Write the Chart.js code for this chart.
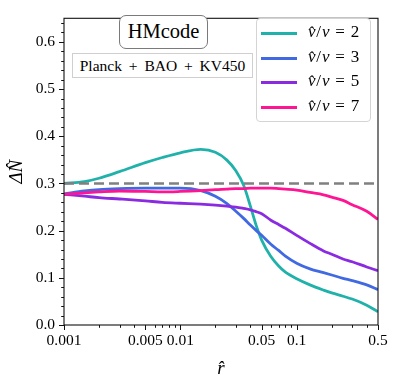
<!DOCTYPE html>
<html><head><meta charset="utf-8">
<script src="https://cdn.jsdelivr.net/npm/chart.js@4"></script>
<style>
html,body{margin:0;padding:0;background:#fff;}
#wrap{position:relative;width:399px;height:389px;overflow:hidden;}
canvas{position:absolute;left:0;top:0;}
.ov{position:absolute;font-family:'Liberation Serif','DejaVu Serif',serif;color:#000;background:#fff;box-sizing:border-box;white-space:nowrap;}
#hm{left:119px;top:15px;width:89px;height:34px;border:1.5px solid #7a7a7a;border-radius:7px;font-size:20.5px;line-height:31px;text-align:center;}
#pl{left:72px;top:53px;width:181px;height:25px;border:1px solid #cfcfcf;font-size:15.5px;line-height:23px;text-align:center;word-spacing:3px;}
#leg{left:256px;top:18px;width:115px;height:104px;border:1px solid #d4d4d4;border-radius:4px;background:rgba(255,255,255,0.85);}
.row{position:absolute;left:0;height:20px;width:113px;}
.sw{position:absolute;left:4px;width:36px;height:3px;top:9px;}
.lt{position:absolute;left:51px;top:-2px;font-size:17px;line-height:22px;letter-spacing:0.8px;}
.lt i{font-style:italic;}
.lt .eq{margin:0 5px;}
</style></head><body>
<div id="wrap">
<canvas id="c" width="399" height="389"></canvas>
<div id="hm" class="ov">HMcode</div>
<div id="pl" class="ov">Planck + BAO + KV450</div>
<div id="leg" class="ov"></div>
</div>
<script>
// ---- data ----
const rHat = [0.001, 0.0015, 0.002, 0.003, 0.005, 0.007, 0.01, 0.015, 0.02, 0.025, 0.03, 0.035, 0.04, 0.045, 0.05, 0.06, 0.07, 0.08, 0.1, 0.13, 0.17, 0.2, 0.25, 0.3, 0.4, 0.5];
const ratios = [2, 3, 5, 7];
const dN_v2 = [0.300, 0.304, 0.311, 0.325, 0.344, 0.355, 0.365, 0.372, 0.366, 0.350, 0.327, 0.296, 0.252, 0.210, 0.180, 0.145, 0.125, 0.112, 0.098, 0.085, 0.074, 0.068, 0.061, 0.055, 0.042, 0.028];
const dN_v3 = [0.278, 0.284, 0.287, 0.289, 0.290, 0.290, 0.290, 0.285, 0.273, 0.258, 0.241, 0.226, 0.212, 0.200, 0.190, 0.171, 0.158, 0.146, 0.131, 0.119, 0.111, 0.106, 0.099, 0.094, 0.085, 0.075];
const dN_v5 = [0.277, 0.273, 0.270, 0.267, 0.263, 0.260, 0.258, 0.256, 0.254, 0.252, 0.250, 0.247, 0.244, 0.240, 0.236, 0.222, 0.213, 0.205, 0.190, 0.173, 0.157, 0.150, 0.140, 0.134, 0.123, 0.115];
const dN_v7 = [0.277, 0.280, 0.282, 0.284, 0.283, 0.282, 0.283, 0.285, 0.287, 0.288, 0.289, 0.289, 0.290, 0.290, 0.290, 0.290, 0.289, 0.288, 0.286, 0.281, 0.276, 0.271, 0.264, 0.255, 0.241, 0.224];
const refLevel = 0.3;
const xTickValues = [0.001,0.002,0.003,0.004,0.005,0.006,0.007,0.008,0.009,0.01,0.02,0.03,0.04,0.05,0.06,0.07,0.08,0.09,0.1,0.2,0.3,0.4,0.5];
const xTickLabels = ['0.001','0.005','0.01','0.05','0.1','0.5'];
const yTickLabels = ['0.0','0.1','0.2','0.3','0.4','0.5','0.6'];
const colors = ['#20b2aa', '#4169e1', '#8a2be2', '#ff1493'];

const series = [dN_v2, dN_v3, dN_v5, dN_v7];
const FONT = "'Liberation Serif', 'DejaVu Serif', serif";

const datasets = series.map((s, i) => ({
  label: 'v̂/v = ' + ratios[i],
  data: rHat.map((x, k) => ({x, y: s[k]})),
  borderColor: colors[i],
  borderWidth: 2.8,
  pointRadius: 0,
  fill: false,
  cubicInterpolationMode: 'monotone',
  order: 4 - i + 1
}));
datasets.push({
  label: 'ref',
  data: [{x: rHat[0], y: refLevel}, {x: rHat[rHat.length - 1], y: refLevel}],
  borderColor: '#808080',
  borderWidth: 2.5,
  borderDash: [10, 5],
  pointRadius: 0,
  fill: false,
  order: 0
});

function labelFor(v) {
  const hit = xTickLabels.find(l => Math.abs(parseFloat(l) - v) / v < 1e-6);
  return hit || '';
}

const frameTicks = {
  id: 'frameTicks',
  afterDraw(chart) {
    const {ctx, chartArea: a, scales: {x, y}} = chart;
    ctx.save();
    ctx.strokeStyle = '#111';
    ctx.lineWidth = 1.1;
    ctx.strokeRect(a.left, a.top, a.right - a.left, a.bottom - a.top);
    ctx.lineWidth = 1;
    x.ticks.forEach(t => {
      const px = Math.round(x.getPixelForValue(t.value)) + 0.5;
      const L = labelFor(t.value) ? 5 : 2.8;
      ctx.beginPath(); ctx.moveTo(px, a.bottom); ctx.lineTo(px, a.bottom + L); ctx.stroke();
    });
    y.ticks.forEach(t => {
      const py = Math.round(y.getPixelForValue(t.value)) + 0.5;
      const major = Math.abs(t.value * 10 - Math.round(t.value * 10)) < 1e-6;
      const L = major ? 5 : 2.8;
      ctx.beginPath(); ctx.moveTo(a.left, py); ctx.lineTo(a.left - L, py); ctx.stroke();
    });
    ctx.restore();
  }
};

new Chart(document.getElementById('c'), {
  type: 'line',
  data: {datasets},
  options: {
    responsive: false,
    devicePixelRatio: 1,
    animation: false,
    layout: {padding: {left: 0, top: 10, right: 21, bottom: 0}},
    plugins: {legend: {display: false}, tooltip: {enabled: false}},
    scales: {
      x: {
        type: 'logarithmic',
        min: 0.001, max: 0.5,
        grid: {display: false, drawTicks: false},
        border: {display: false},
        afterBuildTicks: s => { s.ticks = xTickValues.map(v => ({value: v})); },
        afterFit: s => { s.height = 64; },
        ticks: {
          autoSkip: false, maxRotation: 0, minRotation: 0, padding: 7,
          color: '#000', font: {family: FONT, size: 15.5},
          callback: v => labelFor(v)
        },
        title: {display: true, text: 'r̂', color: '#000', font: {family: FONT, size: 19, style: 'italic'}, padding: {top: 0, bottom: 9}}
      },
      y: {
        type: 'linear',
        min: 0, max: 0.65,
        grid: {display: false, drawTicks: false},
        border: {display: false},
        afterBuildTicks: s => { const t = []; for (let k = 0; k <= 32; k++) t.push({value: +(k * 0.02).toFixed(2)}); s.ticks = t; },
        afterFit: s => { s.width = 64; },
        ticks: {
          autoSkip: false, padding: 9,
          color: '#000', font: {family: FONT, size: 15.5},
          callback: v => { const i = Math.round(v * 10); return Math.abs(v * 10 - i) < 1e-6 ? yTickLabels[i] : ''; }
        },
        title: {display: true, text: 'ΔN̂', color: '#000', font: {family: FONT, size: 19, style: 'italic'}, padding: {top: 6, bottom: 0}}
      }
    }
  },
  plugins: [frameTicks]
});

// legend overlay built from the same arrays
const leg = document.getElementById('leg');
const rowTops = [4, 29, 53, 78];
ratios.forEach((r, i) => {
  const row = document.createElement('div');
  row.className = 'row';
  row.style.top = rowTops[i] + 'px';
  row.innerHTML = '<div class="sw" style="background:' + colors[i] + '"></div>' +
    '<div class="lt"><i>v̂</i>/<i>v</i><span class="eq">=</span>' + r + '</div>';
  leg.appendChild(row);
});
</script>
</body></html>
